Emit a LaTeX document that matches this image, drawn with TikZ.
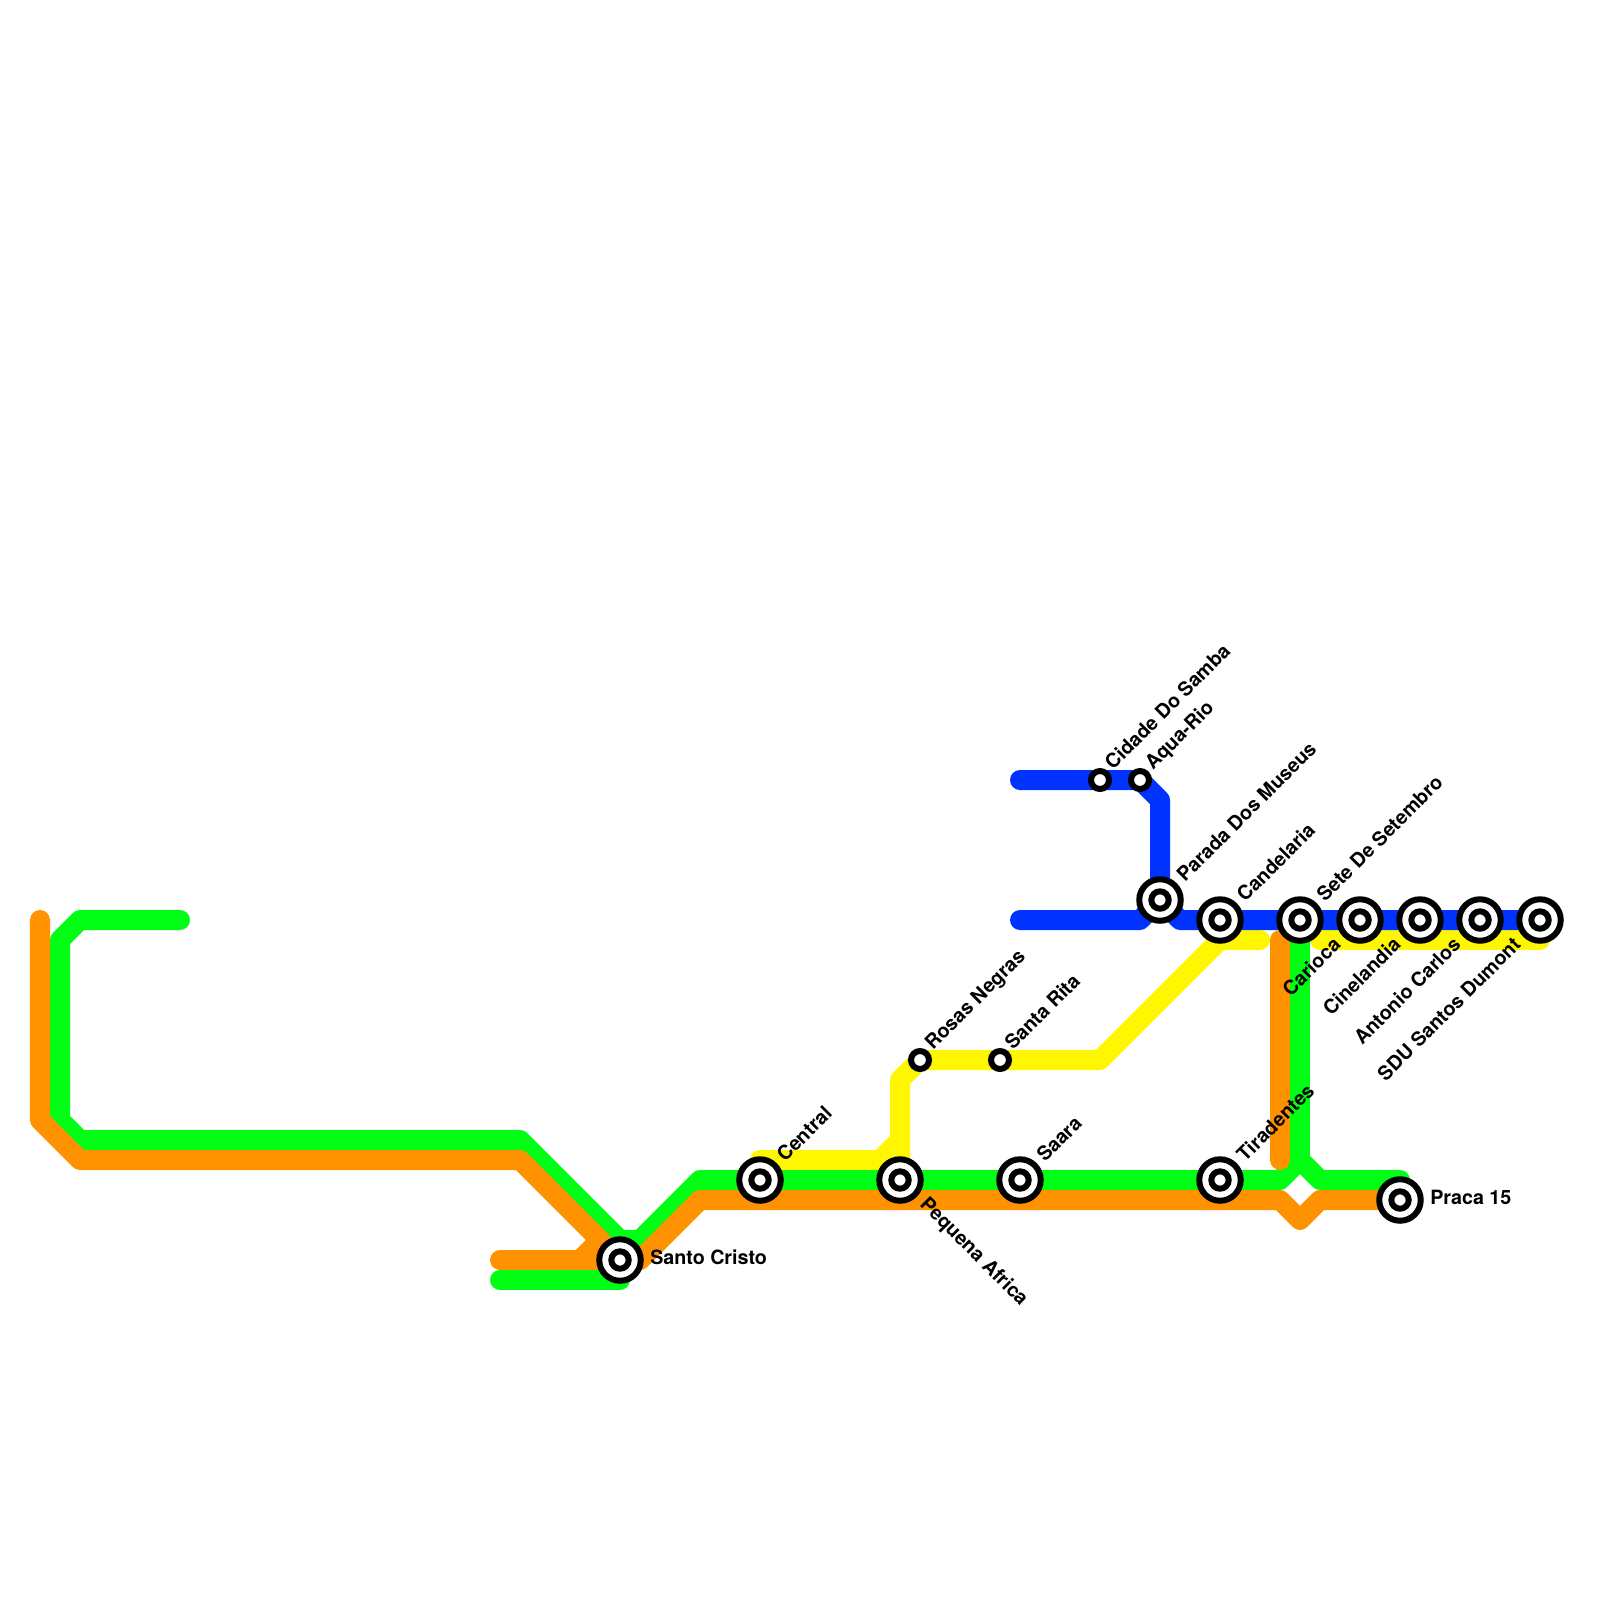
\documentclass[tikz,border=0pt]{standalone}
\usepackage{fontspec}
\setmainfont{TeX Gyre Heros}
\usetikzlibrary{backgrounds}
\definecolor{lineorange}{HTML}{FF9200}
\definecolor{linegreen}{HTML}{00FF14}
\definecolor{lineyellow}{HTML}{FFF700}
\definecolor{lineblue}{HTML}{0033FF}

\begin{document}
\begin{tikzpicture}[
  x=0.025cm, y=-0.025cm,
  metro/.style={line width=14.23pt, line cap=round, line join=round},
  bigstn/.style={circle, draw=black, fill=white, line width=4.27pt, minimum size=29.5pt, inner sep=0pt,
    path picture={\draw[line width=4.27pt] (path picture bounding box.center) circle (8.7);}},
  smallstn/.style={circle, draw=black, fill=white, line width=4.27pt, minimum size=12.8pt, inner sep=0pt},
  lbl/.style={font=\fontsize{14}{16}\bfseries, inner sep=0pt, text=black},
  upl/.style={lbl, rotate=45, anchor=base west},
  upr/.style={lbl, rotate=45, anchor=base east},
]
\useasboundingbox (0,0) rectangle (1600,1600);

% === STATIONS ===
\node[bigstn] (cristo) at (620,1260) {};
\node[bigstn] (central) at (760,1180) {};
\node[bigstn] (africa) at (900,1180) {};
\node[bigstn] (saara) at (1020,1180) {};
\node[bigstn] (tiradentes) at (1220,1180) {};
\node[bigstn] (praca) at (1400,1200) {};
\node[bigstn] (parada) at (1160,900) {};
\node[bigstn] (candelaria) at (1220,920) {};
\node[bigstn] (sete) at (1300,920) {};
\node[bigstn] (cine) at (1360,920) {};
\node[bigstn] (antonio) at (1480,920) {};
\node[bigstn] (carlos) at (1420,920) {};
\node[bigstn] (sdu) at (1540,920) {};
\node[smallstn] (samba) at (1100,780) {};
\node[smallstn] (aqua) at (1140,780) {};
\node[smallstn] (rosas) at (920,1060) {};
\node[smallstn] (rita) at (1000,1060) {};

% === BEND POINTS ===
\coordinate (o1) at (40,920);
\coordinate (o2) at (40,1120);
\coordinate (o3) at (80,1160);
\coordinate (o4) at (520,1160);
\coordinate (o5) at (500,1260);
\coordinate (o6) at (580,1260);
\coordinate (o7) at (600,1240);
\coordinate (o8) at (640,1260);
\coordinate (o9) at (700,1200);
\coordinate (o10) at (1280,1200);
\coordinate (o11) at (1300,1220);
\coordinate (o12) at (1320,1200);
\coordinate (o13) at (1280,940);
\coordinate (o14) at (1280,1160);
\coordinate (g1) at (180,920);
\coordinate (g2) at (80,920);
\coordinate (g3) at (60,940);
\coordinate (g4) at (60,1120);
\coordinate (g5) at (80,1140);
\coordinate (g6) at (520,1140);
\coordinate (g7) at (620,1240);
\coordinate (g8) at (640,1240);
\coordinate (g9) at (700,1180);
\coordinate (g10) at (1280,1180);
\coordinate (g11) at (1300,1160);
\coordinate (g12) at (1320,1180);
\coordinate (g13) at (1400,1180);
\coordinate (g14) at (500,1280);
\coordinate (g15) at (620,1280);
\coordinate (y1) at (760,1160);
\coordinate (y2) at (880,1160);
\coordinate (y3) at (900,1140);
\coordinate (y4) at (900,1080);
\coordinate (y5) at (1100,1060);
\coordinate (y6) at (1220,940);
\coordinate (y7) at (1260,940);
\coordinate (y8) at (1320,940);
\coordinate (y9) at (1540,940);
\coordinate (b1) at (1020,780);
\coordinate (b2) at (1160,800);
\coordinate (b3) at (1020,920);
\coordinate (b4) at (1140,920);
\coordinate (b5) at (1180,920);

% === LINES ===
\begin{scope}[on background layer]
\draw[metro, lineyellow] (y1) -- (y2) -- (y3) -- (africa.center);
\draw[metro, lineyellow] (y3) -- (y4) -- (rosas.center) -- (rita.center) -- (y5) -- (y6) -- (y7);
\draw[metro, lineyellow] (y8) -- (y9) -- (sdu.center);
\draw[metro, lineblue] (b1) -- (samba.center) -- (aqua.center) -- (b2) -- (parada.center);
\draw[metro, lineblue] (b3) -- (b4) -- (parada.center) -- (b5) -- (sdu.center);
\draw[metro, linegreen] (g1) -- (g2) -- (g3) -- (g4) -- (g5) -- (g6) -- (g7) -- (g8) -- (g9) -- (g10) -- (g11) -- (g12) -- (g13) -- (praca.center);
\draw[metro, linegreen] (g11) -- (sete.center);
\draw[metro, linegreen] (g14) -- (g15) -- (cristo.center);
\draw[metro, lineorange] (o1) -- (o2) -- (o3) -- (o4) -- (cristo.center) -- (o8) -- (o9) -- (o10) -- (o11) -- (o12) -- (praca.center);
\draw[metro, lineorange] (o5) -- (cristo.center);
\draw[metro, lineorange] (o6) -- (o7);
\draw[metro, lineorange] (o13) -- (o14);
\end{scope}

% === LABELS ===
\node[lbl, anchor=base west] (cristo-l) at (650,1264) {Santo Cristo};
\node[lbl, anchor=base west] (praca-l) at (1430,1204) {Praca 15};
\node[upl] (central-l) at (785,1163) {Central};
\node[lbl, rotate=-45, anchor=base west] (africa-l) at (919,1205) {Pequena Africa};
\node[upl] (saara-l) at (1045,1163) {Saara};
\node[upl] (tiradentes-l) at (1245,1163) {Tiradentes};
\node[upl] (rosas-l) at (933,1051) {Rosas Negras};
\node[upl] (rita-l) at (1013,1051) {Santa Rita};
\node[upl] (samba-l) at (1113,771) {Cidade Do Samba};
\node[upl] (aqua-l) at (1153,771) {Aqua-Rio};
\node[upl] (parada-l) at (1185,883) {Parada Dos Museus};
\node[upl] (candelaria-l) at (1245,903) {Candelaria};
\node[upl] (sete-l) at (1325,903) {Sete De Setembro};
\node[upr] (carioca-l) at (1342,946) {Carioca};
\node[upr] (cine-l) at (1402,946) {Cinelandia};
\node[upr] (carlos-l) at (1462,946) {Antonio Carlos};
\node[upr] (sdu-l) at (1522,946) {SDU Santos Dumont};
\end{tikzpicture}
\end{document}
